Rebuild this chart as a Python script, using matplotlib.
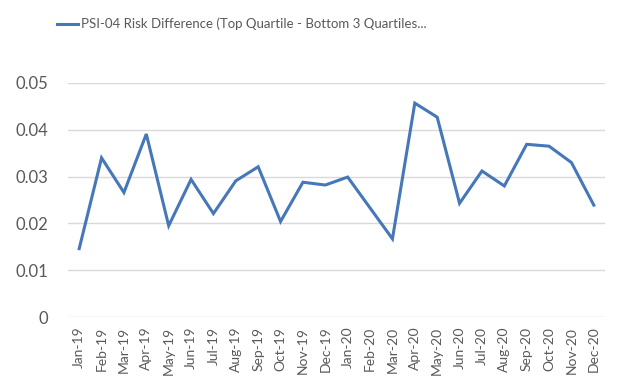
import matplotlib
matplotlib.use("Agg")
import matplotlib.pyplot as plt

plt.rcParams['font.family'] = ['Lato', 'DejaVu Sans']

months = ["Jan-19", "Feb-19", "Mar-19", "Apr-19", "May-19", "Jun-19",
          "Jul-19", "Aug-19", "Sep-19", "Oct-19", "Nov-19", "Dec-19",
          "Jan-20", "Feb-20", "Mar-20", "Apr-20", "May-20", "Jun-20",
          "Jul-20", "Aug-20", "Sep-20", "Oct-20", "Nov-20", "Dec-20"]

risk_diff = [0.0146, 0.0340, 0.0266, 0.0391, 0.0195, 0.0294,
             0.0221, 0.0291, 0.0321, 0.0204, 0.0288, 0.0282,
             0.0299, 0.0233, 0.0167, 0.0457, 0.0427, 0.0243,
             0.0312, 0.0280, 0.0369, 0.0365, 0.0330, 0.0239]

y_ticks = [0, 0.01, 0.02, 0.03, 0.04, 0.05]
y_labels = ["0", "0.01", "0.02", "0.03", "0.04", "0.05"]

series_name = "PSI-04 Risk Difference (Top Quartile - Bottom 3 Quartiles..."

fig = plt.figure(figsize=(6.32, 3.82), dpi=100)
ax = fig.add_axes([68 / 632, 65 / 382, 537 / 632, 234 / 382])

x = list(range(len(months)))
ax.plot(x, risk_diff, color="#4677b8", linewidth=2.2,
        label=series_name, solid_joinstyle="miter")

ax.set_xlim(-0.5, len(months) - 0.5)
ax.set_ylim(0, 0.05)
ax.set_yticks(y_ticks)
ax.set_yticklabels(y_labels, fontsize=12, color="#595959")
ax.set_xticks(x)
ax.set_xticklabels(months, rotation=90, fontsize=10, color="#595959")
ax.tick_params(axis="both", length=0)
ax.tick_params(axis="x", pad=7)
ax.tick_params(axis="y", pad=14)

ax.grid(axis="y", color="#d9d9d9", linewidth=1)
ax.set_axisbelow(True)
for s in ax.spines.values():
    s.set_visible(False)

fig.legend(loc="center left", bbox_to_anchor=(52 / 632, 1 - 24 / 382),
           frameon=False, fontsize=9.5, handlelength=1.6,
           handletextpad=0.2, labelcolor="#595959", borderaxespad=0)

plt.savefig("out.png", dpi=100)
